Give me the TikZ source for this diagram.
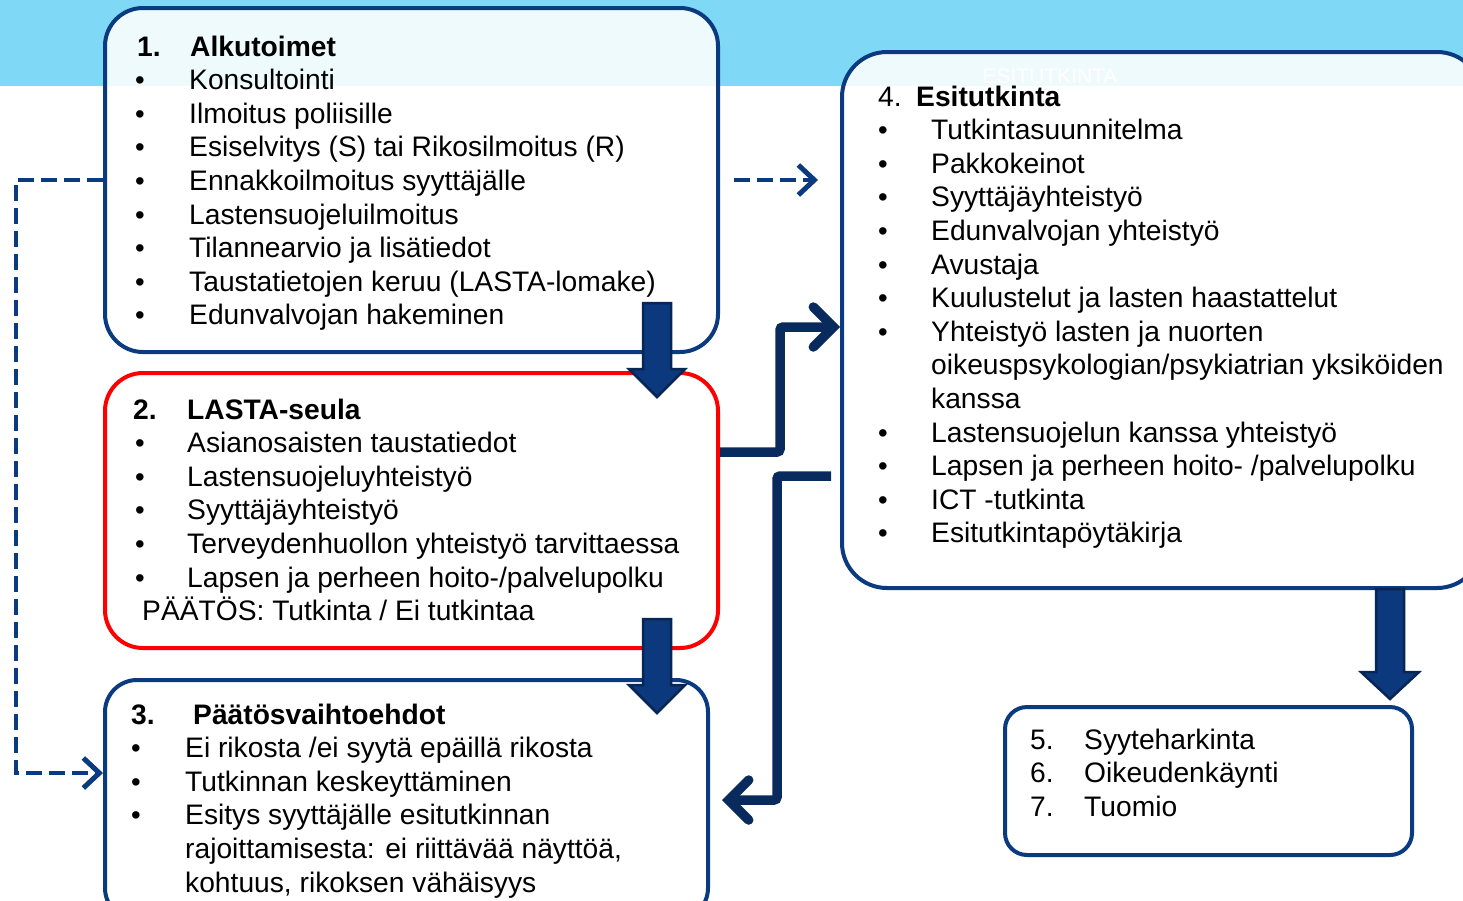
\documentclass[tikz,border=0pt]{standalone}
\usepackage{fontspec}
\setmainfont{Liberation Sans}
\usetikzlibrary{arrows.meta}
\definecolor{band}{RGB}{127,216,245}
\definecolor{boxblue}{RGB}{10,58,128}
\definecolor{arrdark}{RGB}{8,42,92}
\definecolor{arrfill}{RGB}{12,56,126}
\definecolor{arredge}{RGB}{6,38,86}
\definecolor{boxred}{RGB}{255,0,0}
\begin{document}
\begin{tikzpicture}[x=1pt,y=-1pt,
  box/.style={draw=boxblue, line width=4pt, rounded corners=38pt, fill=white, fill opacity=0.88, text opacity=1, inner sep=0pt},
  txt/.style={anchor=base west, inner sep=0pt, font=\fontsize{28.2}{33}\selectfont},
  ttl/.style={txt, font=\fontsize{28.2}{33}\selectfont\bfseries},
  bul/.style={anchor=base, inner sep=0pt, font=\fontsize{27.5}{33}\selectfont},
  blk/.style={fill=arrfill, draw=arredge, line width=2.5pt, line join=miter},
  elb/.style={draw=arrdark, line width=9.5pt, rounded corners=3pt, -{Straight Barb[length=20pt,width=40pt,line cap=round]}},
  dsh/.style={draw=boxblue, line width=4.5pt, dash pattern=on 16pt off 7pt, -{Straight Barb[length=16pt,width=30pt,line width=5pt]}}]
\useasboundingbox (0,0) rectangle (1463,900);
\clip (0,0) rectangle (1463,900);
\fill[band] (0,0) rectangle (1463,86);
% boxes
\node[box, minimum width=613pt, minimum height=344pt] (b1) at (411.5,180) {};
\node[box, draw=boxred, minimum width=613pt, minimum height=275pt] (b2) at (411.5,510.5) {};
\node[box, minimum width=603pt, minimum height=240pt, rounded corners=32pt] (b3) at (406.5,800) {};
\node[box, minimum width=640pt, minimum height=536pt, rounded corners=45pt] (b4) at (1162,320) {};
\node[box, minimum width=407pt, minimum height=148pt, rounded corners=22pt] (b5) at (1208.5,781) {};
\node[anchor=center, inner sep=0pt, text=white, font=\fontsize{21}{24}\selectfont] (wm) at (1050,76) {ESITUTKINTA};
% box 1
\node[ttl] (t1n) at (137,56) {1.};
\node[ttl] (t1) at (190,56) {Alkutoimet};
\foreach \t [count=\i] in {Konsultointi, Ilmoitus poliisille, Esiselvitys (S) tai Rikosilmoitus (R), Ennakkoilmoitus syyttäjälle, Lastensuojeluilmoitus, Tilannearvio ja lisätiedot, Taustatietojen keruu (LASTA-lomake), Edunvalvojan hakeminen}{
  \node[bul] (u1\i) at (140,{56+33.6*\i}) {•};
  \node[txt] (l1\i) at (189,{56+33.6*\i}) {\t};
}
% box 2
\node[ttl] (t2n) at (133,419) {2.};
\node[ttl] (t2) at (187,419) {LASTA-seula};
\foreach \t [count=\i] in {Asianosaisten taustatiedot, Lastensuojeluyhteistyö, Syyttäjäyhteistyö, Terveydenhuollon yhteistyö tarvittaessa, Lapsen ja perheen hoito-/palvelupolku}{
  \node[bul] (u2\i) at (140,{419+33.6*\i}) {•};
  \node[txt] (l2\i) at (187,{419+33.6*\i}) {\t};
}
\node[txt] (l2p) at (142,620.6) {PÄÄTÖS: Tutkinta / Ei tutkintaa};
% box 3
\node[ttl] (t3n) at (131,724) {3.};
\node[ttl] (t3) at (193,724) {Päätösvaihtoehdot};
\foreach \t [count=\i] in {Ei rikosta /ei syytä epäillä rikosta, Tutkinnan keskeyttäminen, Esitys syyttäjälle esitutkinnan}{
  \node[bul] (u3\i) at (136,{724+33.6*\i}) {•};
  \node[txt] (l3\i) at (185,{724+33.6*\i}) {\t};
}
\node[txt] (l34) at (185,858.4) {rajoittamisesta: ei riittävää näyttöä,};
\node[txt] (l35) at (185,892) {kohtuus, rikoksen vähäisyys};
% box 4
\node[txt] (t4n) at (878,106) {4.};
\node[ttl] (t4) at (916,106) {Esitutkinta};
\foreach \t [count=\i] in {Tutkintasuunnitelma, Pakkokeinot, Syyttäjäyhteistyö, Edunvalvojan yhteistyö, Avustaja, Kuulustelut ja lasten haastattelut, Yhteistyö lasten ja nuorten}{
  \node[bul] (u4\i) at (883,{106+33.6*\i}) {•};
  \node[txt] (l4\i) at (931,{106+33.6*\i}) {\t};
}
\node[txt] (l48) at (931,374.8) {oikeuspsykologian/psykiatrian yksiköiden};
\node[txt] (l49) at (931,408.4) {kanssa};
\foreach \t [count=\i from 10] in {Lastensuojelun kanssa yhteistyö, Lapsen ja perheen hoito- /palvelupolku, ICT -tutkinta, Esitutkintapöytäkirja}{
  \node[bul] (u4\i) at (883,{106+33.6*\i}) {•};
  \node[txt] (l4\i) at (931,{106+33.6*\i}) {\t};
}
% box 5
\foreach \n/\t [count=\i] in {5./Syyteharkinta, 6./Oikeudenkäynti, 7./Tuomio}{
  \node[txt] (n5\i) at (1030,{715.4+33.6*\i}) {\n};
  \node[txt] (l5\i) at (1084,{715.4+33.6*\i}) {\t};
}
% block arrows
\draw[blk] (643,303) -- (671,303) -- (671,369) -- (685,369) -- (657,397) -- (629,369) -- (643,369) -- cycle;
\draw[blk] (643,619) -- (671,619) -- (671,685) -- (685,685) -- (657,713) -- (629,685) -- (643,685) -- cycle;
\draw[blk] (1376,589) -- (1404,589) -- (1404,672) -- (1419,672) -- (1390,699) -- (1361,672) -- (1376,672) -- cycle;
% elbow connectors
\coordinate (ya) at (0,452);
\coordinate (yb) at (0,327);
\coordinate (yc) at (0,476);
\coordinate (k1) at (780,452);
\coordinate (k2) at (780,327);
\coordinate (k3) at (777,476);
\coordinate (k4) at (777,800);
\draw[elb] (b2.east |- ya) -- (k1) -- (k2) -- (b4.west |- yb);
\draw[elb, shorten <=9pt, shorten >=12pt] (b4.west |- yc) -- (k3) -- (k4) -- (b3.east);
% dashed connectors
\coordinate (yd) at (0,773);
\coordinate (d1) at (16,180);
\coordinate (d2) at (16,773);
\draw[dsh] (b1.west) -- (d1) -- (d2) -- (b3.west |- yd);
\draw[dsh, shorten <=14pt, shorten >=22pt] (b1.east) -- (b1.east -| b4.west);
\end{tikzpicture}
\end{document}
